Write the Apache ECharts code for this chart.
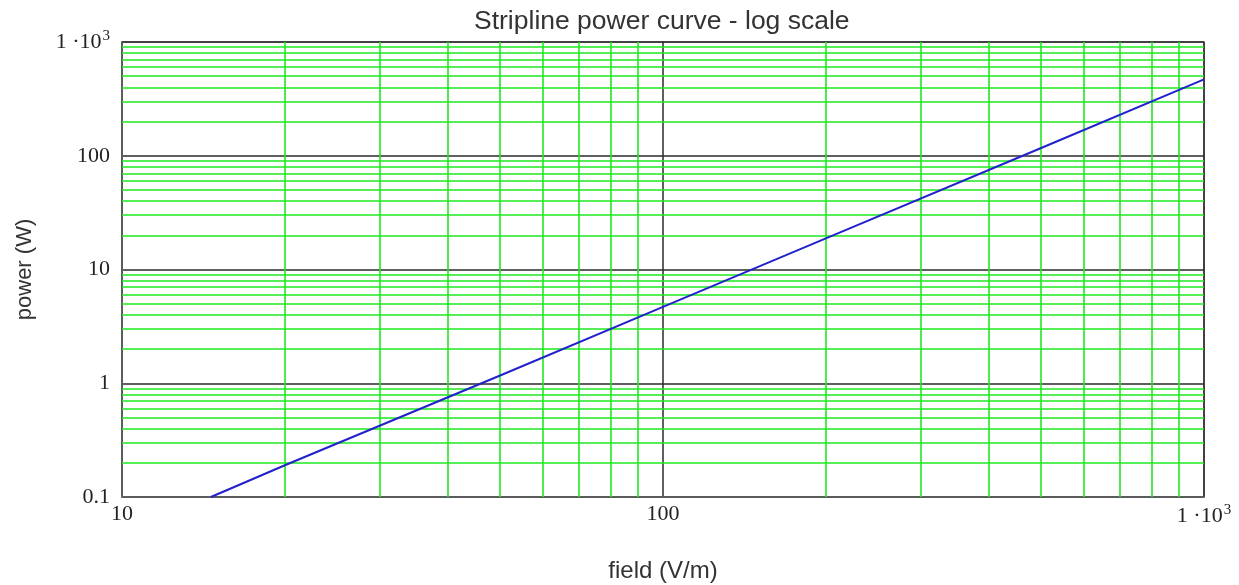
<!DOCTYPE html>
<html>
<head>
<meta charset="utf-8">
<script src="https://cdn.jsdelivr.net/npm/echarts@6/dist/echarts.min.js"></script>
<style>
html,body{margin:0;padding:0;background:#fff;}
#chart{width:1239px;height:585px;}
</style>
</head>
<body>
<div id="chart"></div>
<script>
// Curve: [field (V/m), power (W)]
var fieldValues = [14.6, 20, 50, 100, 200, 500, 1000];
var powerValues = [0.1, 0.19, 1.17, 4.7, 18.8, 117, 470];

// Tick labels per decade exponent
var xTickLabels = {"1": "10", "2": "100", "3": "{a|1 ·10}{s|3}"};
var yTickLabels = {"-1": "0.1", "0": "1", "1": "10", "2": "100", "3": "{a|1 ·10}{s|3}"};

// Minor grid positions
var xMinor = [20, 30, 40, 50, 60, 70, 80, 90, 200, 300, 400, 500, 600, 700, 800, 900];
var yMinor = [0.2, 0.3, 0.4, 0.5, 0.6, 0.7, 0.8, 0.9, 2, 3, 4, 5, 6, 7, 8, 9,
              20, 30, 40, 50, 60, 70, 80, 90, 200, 300, 400, 500, 600, 700, 800, 900];

var seriesData = fieldValues.map(function (x, i) { return [x, powerValues[i]]; });

var richLabel = {
  a: {fontFamily: 'Liberation Serif', fontSize: 22, color: '#222', lineHeight: 26},
  s: {fontFamily: 'Liberation Serif', fontSize: 15, color: '#222', lineHeight: 26, verticalAlign: 'top', padding: [0, 0, 0, 1]}
};

function fmt(table) {
  return function (v) {
    var e = Math.round(Math.log10(v));
    return table[String(e)] || '';
  };
}

var chart = echarts.init(document.getElementById('chart'), null, {renderer: 'canvas'});
chart.setOption({
  animation: false,
  backgroundColor: '#fff',
  title: {
    text: 'Stripline power curve - log scale',
    left: 474, top: 8, padding: 0,
    textStyle: {fontFamily: 'Liberation Sans', fontSize: 26.5, fontWeight: 'normal', color: '#333'}
  },
  grid: {
    left: 122, right: 35, top: 42, bottom: 88,
    show: true, borderColor: '#666', borderWidth: 1.5,
    containLabel: false, outerBoundsMode: 'none'
  },
  xAxis: {
    type: 'log', logBase: 10, min: 10, max: 1000, splitNumber: 2,
    name: 'field (V/m)', nameLocation: 'middle', nameGap: 62,
    nameTextStyle: {fontFamily: 'Liberation Sans', fontSize: 24, color: '#333'},
    axisLine: {show: true, lineStyle: {color: '#666', width: 1.5}},
    axisTick: {show: false},
    axisLabel: {
      margin: 6, formatter: fmt(xTickLabels), rich: richLabel,
      fontFamily: 'Liberation Serif', fontSize: 22, color: '#222',
      showMinLabel: true, showMaxLabel: true
    },
    splitLine: {show: true, lineStyle: {color: '#2a2a2a', width: 1.5}}
  },
  yAxis: {
    type: 'log', logBase: 10, min: 0.1, max: 1000, splitNumber: 4,
    name: 'power (W)', nameLocation: 'middle', nameGap: 86,
    nameTextStyle: {fontFamily: 'Liberation Sans', fontSize: 22, color: '#333'},
    axisLine: {show: true, lineStyle: {color: '#666', width: 1.5}},
    axisTick: {show: false},
    axisLabel: {
      margin: 12, formatter: fmt(yTickLabels), rich: richLabel,
      fontFamily: 'Liberation Serif', fontSize: 22, color: '#222',
      showMinLabel: true, showMaxLabel: true
    },
    splitLine: {show: true, lineStyle: {color: '#2a2a2a', width: 1.5}}
  },
  series: [
    {
      type: 'line',
      data: [],
      silent: true,
      z: 1,
      markLine: {
        silent: true,
        symbol: ['none', 'none'],
        label: {show: false},
        lineStyle: {type: 'solid', color: '#1ee81e', width: 1.6},
        emphasis: {disabled: true},
        data: xMinor.map(function (v) { return {xAxis: v}; })
          .concat(yMinor.map(function (v) { return {yAxis: v}; }))
      }
    },
    {
      type: 'line',
      data: seriesData,
      showSymbol: false,
      symbol: 'none',
      z: 5,
      lineStyle: {color: '#2222cc', width: 2},
      itemStyle: {color: '#2222cc'}
    }
  ]
});
</script>
</body>
</html>
